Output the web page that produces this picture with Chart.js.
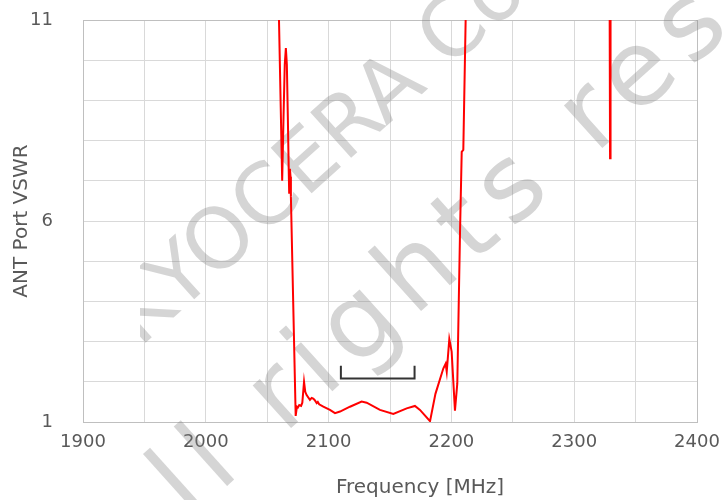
<!DOCTYPE html>
<html lang="en">
<head>
    <meta charset="UTF-8">
    <title>ANT Port VSWR</title>
    <script src="https://cdn.jsdelivr.net/npm/chart.js"></script>
    <style>
        body {
            margin: 0;
            background-color: #ffffff;
        }
        .chart-container {
            width: 725px;
            height: 500px;
        }
    </style>
</head>
<body>

<div class="chart-container">
    <canvas id="graficoVswr"></canvas>
</div>

<script>
// Measured curve (values above 11 run off the top of the chart)
var freq = [2059.0, 2059.6, 2062.2, 2063.3, 2064.3, 2065.2, 2066.0, 2066.8, 2067.5, 2067.9,
            2068.5, 2069.0, 2069.3, 2073.2, 2074.2, 2075.0, 2076.1, 2077.6, 2078.6, 2080.0,
            2081.0, 2082.1, 2084.8, 2086.2, 2087.5, 2088.6, 2090.3, 2091.2, 2092.3, 2095.7,
            2101.1, 2105.2, 2109.3, 2117.4, 2126.9, 2131.0, 2141.8, 2152.7, 2163.6, 2170.3,
            2174.4, 2182.6, 2187.0, 2193.4, 2195.3, 2196.2, 2198.3, 2200.2, 2202.9, 2204.8,
            2207.0, 2208.4, 2209.7, 2211.6, 2212.2, 2328.8, 2329.2, 2329.6];
var vswr = [12, 11, 7.0, 8.6, 9.9, 10.3, 9.9, 8.6, 7.3, 6.7,
            7.3, 7.1, 6.6, 1.15, 1.38, 1.36, 1.42, 1.40, 1.48, 2.0,
            1.75, 1.67, 1.55, 1.6, 1.58, 1.55, 1.47, 1.5, 1.44, 1.38,
            1.30, 1.22, 1.26, 1.38, 1.51, 1.48, 1.30, 1.20, 1.34, 1.40,
            1.30, 1.02, 1.70, 2.33, 2.45, 2.25, 3.06, 2.75, 1.28, 1.96,
            5.69, 7.72, 7.77, 11, 12, 12, 7.56, 12];

// Band bracket (2110 - 2170 MHz)
var bandFreq = [2110, 2110, 2170, 2170];
var bandVswr = [2.4, 2.08, 2.08, 2.4];

var xTickLabels = [1900, 2000, 2100, 2200, 2300, 2400];
var yTickLabels = [1, 6, 11];
var xTitle = 'Frequency [MHz]';
var yTitle = 'ANT Port VSWR';
var watermark = ['KYOCERA Corporation', 'All rights reserved'];

var corCinza = '#595959';
var fonte = '"DejaVu Sans", Verdana, sans-serif';

function pares(xs, ys) {
    var out = [];
    for (var i = 0; i < xs.length; i++) out.push({ x: xs[i], y: ys[i] });
    return out;
}

function linhaMarca(ctx, texto, prefixo, letra, cx, cy, tam, sobe, espaco) {
    ctx.save();
    ctx.font = tam + 'px ' + fonte;
    ctx.letterSpacing = espaco + 'px';
    var off = ctx.measureText(prefixo).width + ctx.measureText(letra).width / 2;
    ctx.translate(cx, cy);
    ctx.rotate(-42 * Math.PI / 180);
    ctx.textBaseline = 'alphabetic';
    ctx.textAlign = 'left';
    ctx.fillStyle = 'rgba(128,128,128,0.33)';
    ctx.fillText(texto, -off, sobe * tam);
    ctx.restore();
}

// watermark goes under the curves, x title drawn by hand (it sits right of centre)
var extras = {
    id: 'extras',
    beforeDatasetsDraw: function (chart) {
        var ctx = chart.ctx;
        ctx.save();
        ctx.beginPath();
        ctx.rect(140, 0, 600, 500);
        ctx.clip();
        linhaMarca(ctx, watermark[0], 'KYOCERA ', 'C', 450, 28, 84, 0.36, 0);
        linhaMarca(ctx, watermark[1], 'All rights r', 'e', 645, 70, 105, 0.28, 12);
        ctx.restore();
    },
    afterDraw: function (chart) {
        var ctx = chart.ctx;
        ctx.save();
        ctx.font = '20px ' + fonte;
        ctx.fillStyle = corCinza;
        ctx.textAlign = 'center';
        ctx.textBaseline = 'middle';
        ctx.fillText(xTitle, 420, 488);
        ctx.restore();
    }
};

function corGrade(ctx) {
    var n = ctx.chart.scales[ctx.scale.id].ticks.length;
    return (ctx.index === 0 || ctx.index === n - 1) ? '#bfbfbf' : '#d9d9d9';
}

new Chart(document.getElementById('graficoVswr').getContext('2d'), {
    type: 'line',
    data: {
        datasets: [{
            data: pares(freq, vswr),
            borderColor: '#ff0000',
            borderWidth: 2,
            pointRadius: 0,
            tension: 0,
            clip: 0
        }, {
            data: pares(bandFreq, bandVswr),
            borderColor: '#333333',
            borderWidth: 2,
            pointRadius: 0,
            tension: 0
        }]
    },
    options: {
        responsive: true,
        maintainAspectRatio: false,
        animation: false,
        layout: { padding: { top: 20, right: 28, left: 0, bottom: 0 } },
        plugins: {
            legend: { display: false },
            tooltip: { enabled: false }
        },
        scales: {
            x: {
                type: 'linear',
                min: 1900,
                max: 2400,
                afterFit: function (s) {
                    s.height = 78;
                    s.paddingLeft = 0;
                    s.paddingRight = 0;
                },
                grid: { color: corGrade, lineWidth: 1, drawTicks: false },
                border: { display: true, color: '#bfbfbf' },
                ticks: {
                    stepSize: 50,
                    autoSkip: false,
                    maxRotation: 0,
                    padding: 10,
                    color: corCinza,
                    font: { family: fonte, size: 18 },
                    callback: function (v) { return xTickLabels.indexOf(v) >= 0 ? String(v) : ''; }
                }
            },
            y: {
                min: 1,
                max: 11,
                afterFit: function (s) {
                    s.width = 83;
                    s.paddingTop = 0;
                    s.paddingBottom = 0;
                },
                grid: { color: corGrade, lineWidth: 1, drawTicks: false },
                border: { display: true, color: '#bfbfbf' },
                ticks: {
                    stepSize: 1,
                    autoSkip: false,
                    padding: 30,
                    color: corCinza,
                    font: { family: fonte, size: 18 },
                    callback: function (v) { return yTickLabels.indexOf(v) >= 0 ? String(v) : ''; }
                },
                title: {
                    display: true,
                    text: yTitle,
                    color: corCinza,
                    font: { family: fonte, size: 20 },
                    padding: { top: 10, bottom: 0 }
                }
            }
        }
    },
    plugins: [extras]
});
</script>

</body>
</html>
